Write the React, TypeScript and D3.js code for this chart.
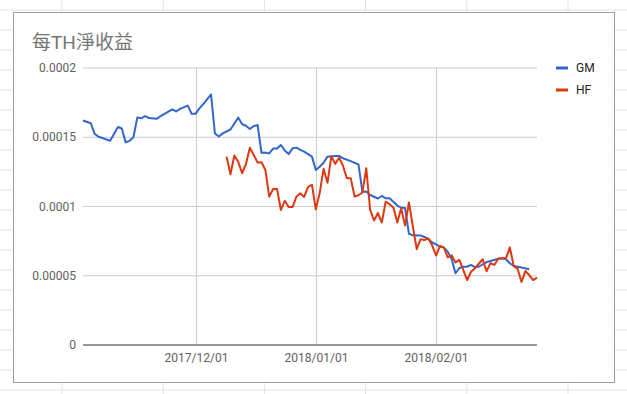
import React from 'react';
import * as d3 from 'd3';

// 每TH淨收益 — values
const GM: [string, number][] = [
  ['2017-11-02', 0.0001621], ['2017-11-04', 0.0001601], ['2017-11-05', 0.0001525], ['2017-11-06', 0.0001504],
  ['2017-11-07', 0.0001495], ['2017-11-09', 0.0001474], ['2017-11-11', 0.0001574], ['2017-11-12', 0.0001563],
  ['2017-11-13', 0.0001463], ['2017-11-14', 0.0001474], ['2017-11-15', 0.00015], ['2017-11-16', 0.0001643],
  ['2017-11-17', 0.0001637], ['2017-11-18', 0.0001652], ['2017-11-19', 0.0001639], ['2017-11-21', 0.0001633],
  ['2017-11-22', 0.0001653], ['2017-11-23', 0.0001669], ['2017-11-25', 0.0001702], ['2017-11-26', 0.0001686],
  ['2017-11-27', 0.0001705], ['2017-11-29', 0.0001728], ['2017-11-30', 0.0001669], ['2017-12-01', 0.0001669],
  ['2017-12-02', 0.0001708], ['2017-12-03', 0.0001739], ['2017-12-05', 0.0001809], ['2017-12-06', 0.0001527],
  ['2017-12-07', 0.0001505], ['2017-12-08', 0.0001528], ['2017-12-10', 0.0001556], ['2017-12-12', 0.0001642],
  ['2017-12-13', 0.0001594], ['2017-12-14', 0.0001583], ['2017-12-15', 0.000156], ['2017-12-16', 0.0001581],
  ['2017-12-17', 0.0001588], ['2017-12-18', 0.0001388], ['2017-12-19', 0.0001389], ['2017-12-20', 0.0001383],
  ['2017-12-21', 0.0001418], ['2017-12-22', 0.0001418], ['2017-12-23', 0.0001444], ['2017-12-24', 0.0001405],
  ['2017-12-25', 0.0001378], ['2017-12-26', 0.000142], ['2017-12-27', 0.0001425], ['2017-12-28', 0.0001409],
  ['2017-12-29', 0.0001396], ['2017-12-31', 0.000136], ['2018-01-01', 0.0001264], ['2018-01-02', 0.0001287],
  ['2018-01-03', 0.0001316], ['2018-01-04', 0.000136], ['2018-01-06', 0.0001365], ['2018-01-07', 0.0001365],
  ['2018-01-08', 0.0001348], ['2018-01-10', 0.0001328], ['2018-01-12', 0.0001303], ['2018-01-13', 0.0001107],
  ['2018-01-14', 0.0001108], ['2018-01-15', 0.0001083], ['2018-01-17', 0.0001058], ['2018-01-18', 0.0001076],
  ['2018-01-19', 0.0001059], ['2018-01-20', 0.0001059], ['2018-01-22', 0.0001007], ['2018-01-23', 0.0000991],
  ['2018-01-24', 0.0000989], ['2018-01-25', 0.0000803], ['2018-01-26', 0.0000792], ['2018-01-28', 0.0000791],
  ['2018-01-29', 0.000078], ['2018-01-30', 0.0000765], ['2018-01-31', 0.000074], ['2018-02-01', 0.0000726],
  ['2018-02-02', 0.0000711], ['2018-02-03', 0.0000703], ['2018-02-04', 0.0000674], ['2018-02-05', 0.0000621],
  ['2018-02-06', 0.0000518], ['2018-02-07', 0.0000556], ['2018-02-08', 0.0000565], ['2018-02-09', 0.0000565],
  ['2018-02-10', 0.0000578], ['2018-02-11', 0.0000563], ['2018-02-12', 0.0000565], ['2018-02-14', 0.0000599],
  ['2018-02-15', 0.0000606], ['2018-02-17', 0.0000623], ['2018-02-18', 0.0000626], ['2018-02-19', 0.0000619],
  ['2018-02-20', 0.000059], ['2018-02-21', 0.000057], ['2018-02-23', 0.000056], ['2018-02-25', 0.0000547],
];

const HF: [string, number][] = [
  ['2017-12-09', 0.000136], ['2017-12-10', 0.0001233], ['2017-12-11', 0.0001368], ['2017-12-12', 0.0001323],
  ['2017-12-13', 0.000124], ['2017-12-14', 0.0001307], ['2017-12-15', 0.0001424], ['2017-12-17', 0.0001318],
  ['2017-12-18', 0.000132], ['2017-12-19', 0.0001264], ['2017-12-20', 0.0001071], ['2017-12-21', 0.0001126],
  ['2017-12-22', 0.0001126], ['2017-12-23', 0.0000975], ['2017-12-24', 0.0001041], ['2017-12-25', 0.0000996],
  ['2017-12-26', 0.0000996], ['2017-12-27', 0.0001071], ['2017-12-28', 0.0001095], ['2017-12-29', 0.0001069],
  ['2017-12-30', 0.0001141], ['2017-12-31', 0.0001157], ['2018-01-01', 0.000098], ['2018-01-02', 0.0001097],
  ['2018-01-03', 0.0001273], ['2018-01-04', 0.0001171], ['2018-01-05', 0.0001362], ['2018-01-06', 0.0001308],
  ['2018-01-07', 0.0001352], ['2018-01-08', 0.0001294], ['2018-01-09', 0.0001204], ['2018-01-10', 0.0001204],
  ['2018-01-11', 0.0001071], ['2018-01-12', 0.0001081], ['2018-01-13', 0.0001101], ['2018-01-14', 0.0001276],
  ['2018-01-15', 0.0000975], ['2018-01-16', 0.0000899], ['2018-01-17', 0.0000953], ['2018-01-18', 0.0000884],
  ['2018-01-19', 0.0001035], ['2018-01-20', 0.0001016], ['2018-01-21', 0.0000993], ['2018-01-22', 0.0000884],
  ['2018-01-23', 0.0000987], ['2018-01-24', 0.0000863], ['2018-01-25', 0.0001029], ['2018-01-26', 0.0000856],
  ['2018-01-27', 0.0000693], ['2018-01-28', 0.0000764], ['2018-01-29', 0.0000758], ['2018-01-30', 0.0000769],
  ['2018-01-31', 0.0000718], ['2018-02-01', 0.0000646], ['2018-02-02', 0.0000715], ['2018-02-03', 0.0000704],
  ['2018-02-04', 0.0000632], ['2018-02-05', 0.0000648], ['2018-02-06', 0.0000596], ['2018-02-07', 0.0000614],
  ['2018-02-09', 0.0000469], ['2018-02-10', 0.0000529], ['2018-02-11', 0.0000554], ['2018-02-13', 0.0000619],
  ['2018-02-14', 0.0000532], ['2018-02-15', 0.000059], ['2018-02-16', 0.0000578], ['2018-02-17', 0.0000623],
  ['2018-02-18', 0.0000626], ['2018-02-19', 0.0000626], ['2018-02-20', 0.0000705], ['2018-02-21', 0.000057],
  ['2018-02-22', 0.0000551], ['2018-02-23', 0.0000455], ['2018-02-24', 0.0000534], ['2018-02-25', 0.0000505],
  ['2018-02-26', 0.0000469], ['2018-02-27', 0.0000486],
];

const SERIES = [
  { name: 'GM', color: '#3366cc', data: GM },
  { name: 'HF', color: '#dc3912', data: HF },
];
const yTicks = [0, 0.00005, 0.0001, 0.00015, 0.0002];
const yTickLabels = ['0', '0.00005', '0.0001', '0.00015', '0.0002'];
const xTicks = ['2017-12-01', '2018-01-01', '2018-02-01'];
const xTickLabels = ['2017/12/01', '2018/01/01', '2018/02/01'];
const TITLE = '每TH淨收益';

const W = 627;
const H = 394;
const font = "Roboto, 'Noto Sans CJK TC', sans-serif";
const parse = d3.timeParse('%Y-%m-%d');

export default function App() {
  const allDates = SERIES.flatMap(s => s.data.map(d => parse(d[0]) as Date));
  const x = d3.scaleTime().domain(d3.extent(allDates) as [Date, Date]).range([83, 537]);
  const y = d3.scaleLinear().domain([0, 0.0002]).range([345, 68]);
  const line = d3
    .line<[string, number]>()
    .x(d => x(parse(d[0]) as Date))
    .y(d => y(d[1]));

  // spreadsheet cells behind the chart
  const cols = d3.range(62, W, 101.2);
  const rows = d3.range(10, H, 20);

  return (
    <div style={{ position: 'fixed', left: 0, top: 0 }}>
      <svg width={W} height={H} style={{ display: 'block', background: '#fff' }}>
        {cols.map((c, i) => (
          <line key={'c' + i} x1={c} x2={c} y1={0} y2={H} stroke="#e2e2e2" />
        ))}
        {rows.map((r, i) => (
          <line key={'r' + i} x1={0} x2={W} y1={r} y2={r} stroke="#e2e2e2" />
        ))}
        <rect x={13.5} y={12.5} width={601} height={370} fill="#fff" stroke="#9e9e9e" />
        <text x={32} y={49} fontFamily={font} fontSize={19} fill="#757575">
          {TITLE}
        </text>

        {yTicks.map((t, i) => (
          <g key={'y' + i}>
            {t !== 0 && <line x1={83} x2={537} y1={y(t)} y2={y(t)} stroke="#cccccc" />}
            <text x={76} y={y(t) + 4} textAnchor="end" fontFamily={font} fontSize={12} fill="#616161">
              {yTickLabels[i]}
            </text>
          </g>
        ))}
        {xTicks.map((t, i) => {
          const px = Math.round(x(parse(t) as Date)) + 0.5;
          return (
            <g key={'x' + i}>
              <line x1={px} x2={px} y1={68} y2={345} stroke="#cccccc" />
              <text x={px} y={362} textAnchor="middle" fontFamily={font} fontSize={12} fill="#616161">
                {xTickLabels[i]}
              </text>
            </g>
          );
        })}

        {SERIES.map(s => (
          <path key={s.name} d={line(s.data) || ''} fill="none" stroke={s.color} strokeWidth={2} strokeLinejoin="round" />
        ))}
        <line x1={83} x2={537} y1={y(0)} y2={y(0)} stroke="#333" />

        {SERIES.map((s, i) => (
          <g key={'lg' + s.name} transform={`translate(556, ${68 + i * 22})`}>
            <rect x={0} y={-1.5} width={12} height={3} fill={s.color} />
            <text x={20} y={4} fontFamily={font} fontSize={12} fill="#222">
              {s.name}
            </text>
          </g>
        ))}
      </svg>
    </div>
  );
}
